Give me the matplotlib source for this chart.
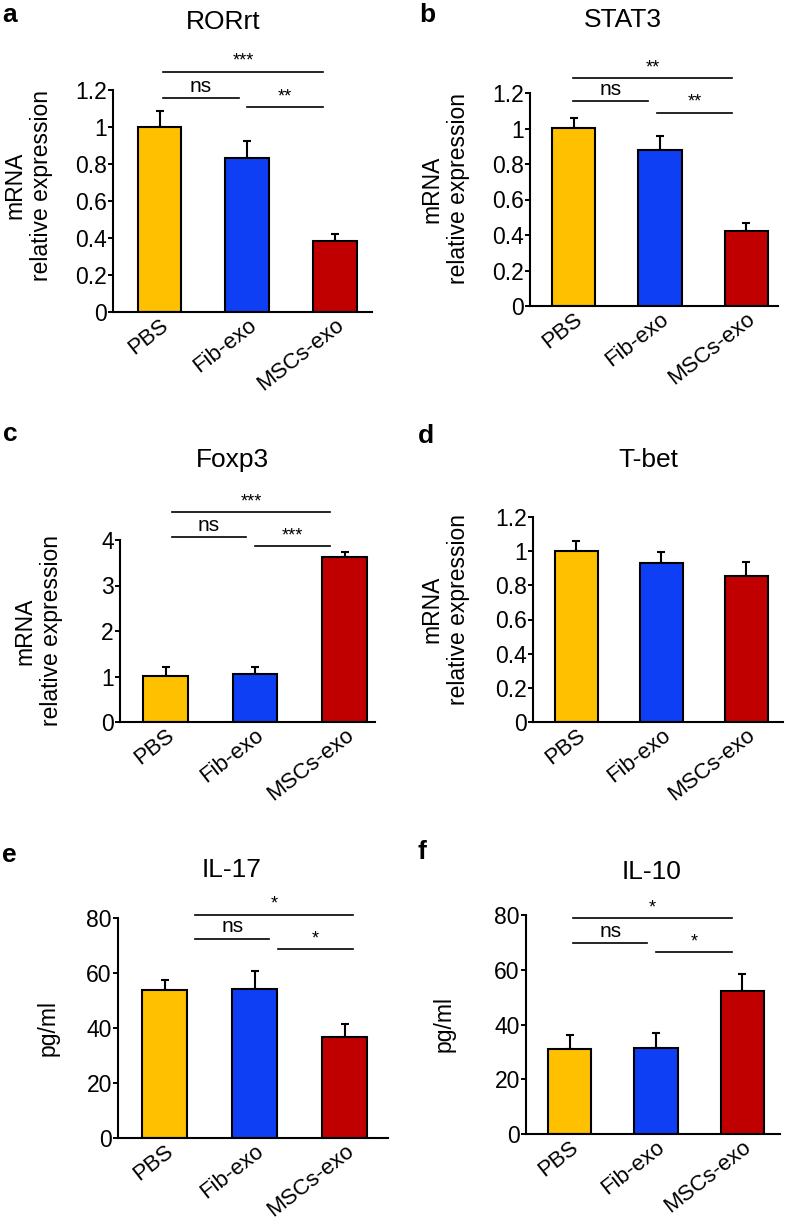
import numpy as np
import matplotlib
matplotlib.use("Agg")
import matplotlib.pyplot as plt

plt.rcParams['font.family'] = ['Liberation Sans', 'DejaVu Sans']

# data
groups = ["PBS", "Fib-exo", "MSCs-exo"]
bar_colors = ["#FFC000", "#0F3FF5", "#C00000"]

titles = ["RORrt", "STAT3", "Foxp3", "T-bet", "IL-17", "IL-10"]
letters = ["a", "b", "c", "d", "e", "f"]
ylabels = ["mRNA\nrelative expression"] * 4 + ["pg/ml"] * 2

rorrt_mean = [1.0, 0.835, 0.385]
rorrt_err = [0.085, 0.09, 0.035]
stat3_mean = [1.005, 0.88, 0.42]
stat3_err = [0.052, 0.078, 0.047]
foxp3_mean = [1.01, 1.065, 3.63]
foxp3_err = [0.2, 0.145, 0.11]
tbet_mean = [1.0, 0.928, 0.854]
tbet_err = [0.06, 0.065, 0.08]
il17_mean = [53.9, 54.3, 36.9]
il17_err = [3.7, 6.3, 4.7]
il10_mean = [31.0, 31.4, 52.4]
il10_err = [5.0, 5.4, 6.1]

means = [rorrt_mean, stat3_mean, foxp3_mean, tbet_mean, il17_mean, il10_mean]
errs = [rorrt_err, stat3_err, foxp3_err, tbet_err, il17_err, il10_err]

ymax = [1.2, 1.2, 4, 1.2, 80, 80]
yticks = [
    [0, 0.2, 0.4, 0.6, 0.8, 1, 1.2],
    [0, 0.2, 0.4, 0.6, 0.8, 1, 1.2],
    [0, 1, 2, 3, 4],
    [0, 0.2, 0.4, 0.6, 0.8, 1, 1.2],
    [0, 20, 40, 60, 80],
    [0, 20, 40, 60, 80],
]
ytick_labels = [
    ["0", "0.2", "0.4", "0.6", "0.8", "1", "1.2"],
    ["0", "0.2", "0.4", "0.6", "0.8", "1", "1.2"],
    ["0", "1", "2", "3", "4"],
    ["0", "0.2", "0.4", "0.6", "0.8", "1", "1.2"],
    ["0", "20", "40", "60", "80"],
    ["0", "20", "40", "60", "80"],
]

# significance brackets: (x0, x1, y, label)
sig = [
    [(0.04, 0.9, 1.155, "ns"), (1.0, 1.86, 1.106, "**"), (0.04, 1.86, 1.30, "***")],
    [(-0.01, 0.86, 1.153, "ns"), (0.96, 1.84, 1.09, "**"), (-0.01, 1.84, 1.286, "**")],
    [(0.07, 0.9, 4.07, "ns"), (1.0, 1.84, 3.87, "***"), (0.07, 1.84, 4.62, "***")],
    [],
    [(0.34, 1.16, 72.4, "ns"), (1.26, 2.09, 68.8, "*"), (0.34, 2.09, 81.2, "*")],
    [(0.04, 0.895, 69.7, "ns"), (1.0, 1.88, 66.4, "*"), (0.04, 1.88, 78.8, "*")],
]

W, H = 787, 1226
fig = plt.figure(figsize=(W / 100, H / 100), dpi=100)

# axes boxes in pixels: left, right, top, bottom
boxes = [
    (113, 372, 90, 312),
    (530, 778, 93, 306),
    (120, 375, 540, 722),
    (533, 783, 517, 722),
    (118, 388, 918, 1138),
    (526, 780, 915, 1134),
]
xlims = [(-0.53, 2.42), (-0.51, 2.37), (-0.51, 2.34), (-0.51, 2.43), (-0.52, 2.48), (-0.51, 2.44)]
label_off = [60, 60, 57, 63, 58, 70]
label_y = [0.57, 0.55, 0.5, 0.55, 0.5, 0.5]
title_pos = [(223, 22), (623, 20), (232, 460), (648, 460), (232, 870), (652, 872)]
letter_pos = [(2, 15), (419, 15), (3, 434), (418, 436), (2, 855), (418, 852)]

x = np.arange(3)
for i in range(6):
    l, r, t, b = boxes[i]
    ax = fig.add_axes([l / W, 1 - b / H, (r - l) / W, (b - t) / H])
    ax.bar(x, means[i], width=0.5, color=bar_colors, edgecolor="black", linewidth=1.5, zorder=2)
    ax.errorbar(x, means[i], yerr=[[0, 0, 0], errs[i]], fmt="none", ecolor="black",
                elinewidth=1.5, capsize=3, capthick=1.5, zorder=1)
    ax.set_xlim(*xlims[i])
    ax.set_ylim(0, ymax[i])
    ax.set_yticks(yticks[i])
    ax.set_yticklabels(ytick_labels[i], fontsize=16.5)
    ax.set_xticks(x)
    ax.set_xticklabels(groups, fontsize=16, rotation=38, ha="right", rotation_mode="anchor")
    ax.tick_params(axis="x", length=0, pad=2)
    ax.tick_params(axis="y", length=3.5, width=1.4, direction="out", pad=1)
    for s in ["top", "right"]:
        ax.spines[s].set_visible(False)
    for s in ["left", "bottom"]:
        ax.spines[s].set_linewidth(1.5)
    ax.set_ylabel(ylabels[i], fontsize=16.5, linespacing=1.2)
    ax.yaxis.set_label_coords(-label_off[i] / (r - l), label_y[i])

    for x0, x1, yy, txt in sig[i]:
        ax.plot([x0, x1], [yy, yy], color="black", lw=1.2, clip_on=False)
        if txt == "ns":
            ax.text((x0 + x1) / 2, yy + ymax[i] * 0.012, txt, ha="center", va="bottom", fontsize=15)
        else:
            ax.text((x0 + x1) / 2, yy + ymax[i] * 0.008, txt, ha="center", va="bottom", fontsize=13)

    tx, ty = title_pos[i]
    fig.text(tx / W, 1 - ty / H, titles[i], ha="center", va="center", fontsize=19)
    lx, ly = letter_pos[i]
    fig.text(lx / W, 1 - ly / H, letters[i], ha="left", va="center", fontsize=19, fontweight="bold")

fig.savefig("out.png", dpi=100)
